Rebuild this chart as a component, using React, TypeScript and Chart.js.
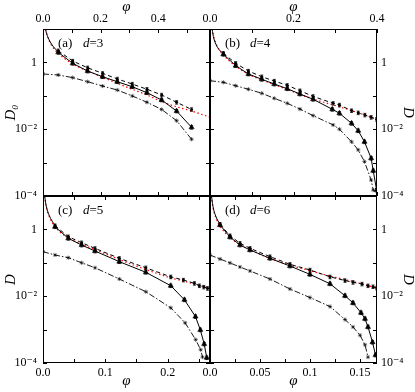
import React, { useEffect, useRef } from 'react';
import { Chart, registerables } from 'chart.js';

Chart.register(...registerables);

const FONT = '"Liberation Serif", "DejaVu Serif", serif';

// ---------- shared axis ticks ----------
const yTicks = [1e-4, 1e-3, 1e-2, 1e-1, 1, 10];
const yLabels = ['10⁻⁴', '', '10⁻²', '', '1', ''];
// relative statistical error drawn on the simulation points
const relErr = 0.12;

// ---------- panel (a) d=3 ----------
const xTicksA = [0, 0.1, 0.2, 0.3, 0.4, 0.5];
const xLabelsA = ['0.0', '', '0.2', '', '0.4', ''];
const phiCircA = [0.053, 0.103, 0.155, 0.207, 0.258, 0.31, 0.361, 0.412, 0.464, 0.516];
const circA = [2.24, 1.1, 0.69, 0.47, 0.32, 0.225, 0.157, 0.106, 0.064, 0.039];
const phiTriA = [0.053, 0.103, 0.155, 0.207, 0.258, 0.31, 0.361, 0.412, 0.464, 0.516];
const triA = [2.0, 0.94, 0.55, 0.373, 0.264, 0.187, 0.124, 0.075, 0.035, 0.0114];
const phiStarA = [0, 0.053, 0.103, 0.155, 0.207, 0.258, 0.31, 0.361, 0.412, 0.464, 0.516];
const starA = [0.45, 0.42, 0.35, 0.264, 0.196, 0.149, 0.099, 0.064, 0.039, 0.018, 0.005];
const phiRedA = [0.0095, 0.015, 0.025, 0.035, 0.053, 0.103, 0.155, 0.207, 0.258, 0.31, 0.361, 0.412, 0.464, 0.516, 0.58];
const redA = [10, 6.3, 3.8, 2.75, 1.87, 0.895, 0.553, 0.358, 0.237, 0.157, 0.106, 0.0665, 0.047, 0.035, 0.0227];
const phiLowA = [0.0065, 0.012, 0.02, 0.03, 0.04, 0.053];
const lowA = [12, 7.5, 5, 3.5, 2.7, 2.05];

// ---------- panel (b) d=4 ----------
const xTicksB = [0, 0.1, 0.2, 0.3, 0.4];
const xLabelsB = ['0.0', '', '0.2', '', '0.4'];
const phiCircB = [0.032, 0.0615, 0.092, 0.124, 0.154, 0.185, 0.2156, 0.247, 0.295, 0.31, 0.339, 0.355, 0.371, 0.386, 0.399];
const circB = [1.87, 0.94, 0.553, 0.373, 0.277, 0.206, 0.142, 0.096, 0.0596, 0.053, 0.036, 0.031, 0.0266, 0.0227, 0.0198];
const phiTriB = [0.032, 0.0615, 0.092, 0.124, 0.154, 0.185, 0.2156, 0.247, 0.293, 0.31, 0.339, 0.355, 0.37, 0.386, 0.391, 0.399];
const triB = [1.75, 0.8, 0.45, 0.312, 0.225, 0.163, 0.113, 0.0785, 0.0394, 0.03, 0.015, 0.009, 0.0042, 0.00135, 0.00057, 0.00015];
const phiStarB = [0, 0.032, 0.0615, 0.092, 0.124, 0.154, 0.185, 0.2156, 0.247, 0.295, 0.31, 0.339, 0.355, 0.37, 0.386, 0.391];
const starB = [0.283, 0.253, 0.2, 0.157, 0.119, 0.084, 0.0596, 0.04, 0.0255, 0.0134, 0.01, 0.0042, 0.0024, 0.00107, 0.0003, 0.00015];
const phiRedB = [0.0053, 0.01, 0.02, 0.032, 0.0615, 0.092, 0.124, 0.154, 0.185, 0.2156, 0.247, 0.295, 0.31, 0.355, 0.4];
const redB = [10, 5.3, 2.65, 1.66, 0.78, 0.44, 0.3, 0.215, 0.155, 0.11, 0.08, 0.053, 0.047, 0.031, 0.0198];
const phiLowB = [0.004, 0.008, 0.014, 0.022, 0.032];
const lowB = [12, 6, 3.5, 2.4, 1.8];

// ---------- panel (c) d=5 ----------
const xTicksC = [0, 0.05, 0.1, 0.15, 0.2, 0.25];
const xLabelsC = ['0.0', '', '0.1', '', '0.2', ''];
const phiCircC = [0.0193, 0.0406, 0.062, 0.0835, 0.1225, 0.165, 0.205, 0.2253, 0.243, 0.251, 0.258, 0.264];
const circC = [1.29, 0.605, 0.4, 0.27, 0.136, 0.071, 0.038, 0.0305, 0.0243, 0.0206, 0.0188, 0.0172];
const phiTriC = [0.0193, 0.0406, 0.062, 0.0835, 0.1225, 0.165, 0.205, 0.227, 0.2447, 0.2525, 0.2587, 0.2628];
const triC = [1.2, 0.54, 0.34, 0.225, 0.108, 0.052, 0.0206, 0.0078, 0.00245, 0.00098, 0.00037, 0.000144];
const phiStarC = [0, 0.0193, 0.0406, 0.062, 0.0835, 0.1225, 0.165, 0.205, 0.228, 0.245, 0.253, 0.256];
const starC = [0.215, 0.171, 0.142, 0.1, 0.071, 0.0327, 0.0136, 0.0045, 0.0016, 0.0005, 0.00025, 0.00015];
const phiRedC = [0.0025, 0.005, 0.01, 0.0193, 0.0406, 0.062, 0.0835, 0.1225, 0.165, 0.205, 0.23, 0.25, 0.268];
const redC = [10, 5, 2.45, 1.2, 0.56, 0.36, 0.25, 0.125, 0.063, 0.0355, 0.027, 0.021, 0.017];
const phiLowC = [0.002, 0.005, 0.01, 0.0193];
const lowC = [12, 5.2, 2.6, 1.3];

// ---------- panel (d) d=6 ----------
const xTicksD = [0, 0.025, 0.05, 0.075, 0.1, 0.125, 0.15];
const xLabelsD = ['0.0', '', '0.05', '', '0.1', '', '0.15'];
const phiCircD = [0.01, 0.02, 0.03, 0.04, 0.06, 0.08, 0.1, 0.12, 0.135, 0.143, 0.152, 0.158, 0.163, 0.1667];
const circD = [1.42, 0.65, 0.384, 0.272, 0.153, 0.09, 0.061, 0.038, 0.0295, 0.026, 0.0232, 0.0206, 0.0193, 0.0176];
const phiTriD = [0.01, 0.02, 0.03, 0.04, 0.06, 0.08, 0.1, 0.12, 0.135, 0.143, 0.151, 0.155, 0.158, 0.1625, 0.1655];
const triD = [1.36, 0.59, 0.34, 0.242, 0.136, 0.08, 0.045, 0.0235, 0.0103, 0.0063, 0.0032, 0.0021, 0.0012, 0.00042, 0.000173];
const phiStarD = [0, 0.01, 0.02, 0.03, 0.04, 0.06, 0.08, 0.1, 0.12, 0.135, 0.143, 0.15, 0.155, 0.158];
const starD = [0.171, 0.13, 0.099, 0.075, 0.057, 0.0327, 0.0164, 0.0091, 0.0049, 0.002, 0.0012, 0.00068, 0.00035, 0.00015];
const phiRedD = [0.0013, 0.003, 0.006, 0.01, 0.02, 0.03, 0.04, 0.06, 0.08, 0.1, 0.12, 0.14, 0.1667];
const redD = [10, 4.5, 2.2, 1.26, 0.57, 0.35, 0.245, 0.135, 0.085, 0.058, 0.04, 0.029, 0.0176];
const phiLowD = [0.001, 0.003, 0.006, 0.01];
const lowD = [13, 4.8, 2.4, 1.4];

const pts = (xs: number[], ys: number[]) => xs.map((x, i) => ({ x, y: ys[i] }));

type Panel = {
  tag: string; dim: string; xMax: number; xTicks: number[]; xLabels: string[];
  xPos: 'top' | 'bottom'; yPos: 'left' | 'right'; yTitle: string;
  left: number; top: number; width: number; height: number;
  padding: { left: number; right: number; top: number; bottom: number };
  circ: any[]; tri: any[]; star: any[]; red: any[]; low: any[];
};

const panels: Panel[] = [
  {
    tag: '(a)', dim: '3', xMax: 0.58, xTicks: xTicksA, xLabels: xLabelsA, xPos: 'top', yPos: 'left', yTitle: 'D₀',
    left: 0, top: 0, width: 220, height: 206, padding: { left: 0, right: 10, top: 0, bottom: 10 },
    circ: pts(phiCircA, circA), tri: pts(phiTriA, triA), star: pts(phiStarA, starA), red: pts(phiRedA, redA), low: pts(phiLowA, lowA),
  },
  {
    tag: '(b)', dim: '4', xMax: 0.4, xTicks: xTicksB, xLabels: xLabelsB, xPos: 'top', yPos: 'right', yTitle: 'D',
    left: 200, top: 0, width: 215, height: 206, padding: { left: 10, right: 0, top: 0, bottom: 10 },
    circ: pts(phiCircB, circB), tri: pts(phiTriB, triB), star: pts(phiStarB, starB), red: pts(phiRedB, redB), low: pts(phiLowB, lowB),
  },
  {
    tag: '(c)', dim: '5', xMax: 0.268, xTicks: xTicksC, xLabels: xLabelsC, xPos: 'bottom', yPos: 'left', yTitle: 'D',
    left: 0, top: 186, width: 220, height: 206, padding: { left: 0, right: 10, top: 10, bottom: 0 },
    circ: pts(phiCircC, circC), tri: pts(phiTriC, triC), star: pts(phiStarC, starC), red: pts(phiRedC, redC), low: pts(phiLowC, lowC),
  },
  {
    tag: '(d)', dim: '6', xMax: 0.167, xTicks: xTicksD, xLabels: xLabelsD, xPos: 'bottom', yPos: 'right', yTitle: 'D',
    left: 200, top: 186, width: 215, height: 206, padding: { left: 10, right: 0, top: 10, bottom: 0 },
    circ: pts(phiCircD, circD), tri: pts(phiTriD, triD), star: pts(phiStarD, starD), red: pts(phiRedD, redD), low: pts(phiLowD, lowD),
  },
];

const framePlugin = {
  id: 'frame',
  afterDraw(chart: any) {
    const { ctx, chartArea, scales } = chart;
    const { left, right, top, bottom } = chartArea;
    const L = 4;
    ctx.save();
    ctx.strokeStyle = '#000';
    ctx.lineWidth = 1;
    ctx.beginPath();
    scales.x.ticks.forEach((t: any) => {
      const px = Math.round(scales.x.getPixelForValue(t.value)) + 0.5;
      ctx.moveTo(px, top); ctx.lineTo(px, top + L);
      ctx.moveTo(px, bottom); ctx.lineTo(px, bottom - L);
    });
    scales.y.ticks.forEach((t: any) => {
      const py = Math.round(scales.y.getPixelForValue(t.value)) + 0.5;
      ctx.moveTo(left, py); ctx.lineTo(left + L, py);
      ctx.moveTo(right, py); ctx.lineTo(right - L, py);
    });
    ctx.stroke();
    ctx.strokeRect(left + 0.5, top + 0.5, right - left - 1, bottom - top - 1);
    ctx.restore();
  },
};

// error bars on the simulation data (datasets flagged with errorBars)
const errorBarPlugin = {
  id: 'errorBars',
  afterDatasetsDraw(chart: any) {
    const { ctx, chartArea, scales } = chart;
    ctx.save();
    ctx.beginPath();
    ctx.rect(chartArea.left, chartArea.top, chartArea.right - chartArea.left, chartArea.bottom - chartArea.top);
    ctx.clip();
    ctx.strokeStyle = '#000';
    ctx.lineWidth = 0.8;
    chart.data.datasets.forEach((ds: any) => {
      if (!ds.errorBars) return;
      ds.data.forEach((d: any) => {
        const px = scales.x.getPixelForValue(d.x);
        const y1 = scales.y.getPixelForValue(d.y * (1 + relErr));
        const y2 = scales.y.getPixelForValue(d.y * (1 - relErr));
        ctx.beginPath();
        ctx.moveTo(px, y1); ctx.lineTo(px, y2);
        ctx.moveTo(px - 1.5, y1); ctx.lineTo(px + 1.5, y1);
        ctx.moveTo(px - 1.5, y2); ctx.lineTo(px + 1.5, y2);
        ctx.stroke();
      });
    });
    ctx.restore();
  },
};

const labelPlugin = {
  id: 'panelLabel',
  afterDraw(chart: any, _args: any, opts: any) {
    const { ctx, chartArea } = chart;
    const x = chartArea.left + 15;
    const y = chartArea.top + 18;
    ctx.save();
    ctx.fillStyle = '#000';
    ctx.textBaseline = 'alphabetic';
    ctx.textAlign = 'left';
    ctx.font = `13px ${FONT}`;
    ctx.fillText(opts.tag, x, y);
    const dx = chartArea.left + 40;
    ctx.font = `italic 13px ${FONT}`;
    ctx.fillText('d', dx, y);
    const w = ctx.measureText('d').width;
    ctx.font = `13px ${FONT}`;
    ctx.fillText('=' + opts.dim, dx + w, y);
    ctx.restore();
  },
};

function PanelChart({ p }: { p: Panel }) {
  const ref = useRef<HTMLCanvasElement>(null);
  useEffect(() => {
    if (!ref.current) return;
    const chart = new Chart(ref.current, {
      type: 'scatter',
      data: {
        datasets: [
          {
            data: p.tri, showLine: true, borderColor: '#000', borderWidth: 1, errorBars: true,
            pointStyle: 'triangle', pointRadius: 3, pointBackgroundColor: '#000', pointBorderColor: '#000', pointBorderWidth: 0.5,
          },
          {
            data: p.circ, showLine: true, borderColor: '#000', borderWidth: 1, borderDash: [4, 3], errorBars: true,
            pointStyle: 'circle', pointRadius: 1.5, pointBackgroundColor: '#000', pointBorderWidth: 0,
          },
          {
            data: p.star, showLine: true, borderColor: '#000', borderWidth: 0.9, borderDash: [6, 2, 1.5, 2],
            pointStyle: 'star', pointRadius: 2.1, pointBorderColor: '#000', pointBorderWidth: 0.6,
          },
          {
            data: p.low, showLine: true, borderColor: '#000', borderWidth: 1, pointRadius: 0,
            cubicInterpolationMode: 'monotone',
          },
          {
            data: p.red, showLine: true, borderColor: '#ff0000', borderWidth: 1.2, borderDash: [1.5, 2.5], pointRadius: 0,
            cubicInterpolationMode: 'monotone',
          },
        ] as any,
      },
      options: {
        animation: false,
        responsive: false,
        maintainAspectRatio: false,
        layout: { padding: p.padding },
        plugins: {
          legend: { display: false },
          tooltip: { enabled: false },
          panelLabel: { tag: p.tag, dim: p.dim },
        } as any,
        scales: {
          x: {
            type: 'linear', position: p.xPos, min: 0, max: p.xMax,
            grid: { display: false, drawTicks: false }, border: { display: false },
            ticks: {
              autoSkip: false, maxRotation: 0, padding: 3, color: '#000',
              font: { family: FONT, size: 12 },
              callback: (_v: any, i: number) => p.xLabels[i],
            },
            afterBuildTicks: (s: any) => { s.ticks = p.xTicks.map((v) => ({ value: v })); },
            afterFit: (s: any) => { s.height = 29; s.paddingLeft = 0; s.paddingRight = 0; },
            title: {
              display: true, text: 'φ', color: '#000',
              font: { family: FONT, size: 15, style: 'italic', lineHeight: 1 },
              padding: p.xPos === 'top' ? { top: 0, bottom: 0 } : { top: 3, bottom: 3 },
            },
          },
          y: {
            type: 'logarithmic', position: p.yPos, min: 1e-4, max: 10,
            grid: { display: false, drawTicks: false }, border: { display: false },
            ticks: {
              autoSkip: false, padding: p.yPos === 'left' ? 6 : 4, color: '#000',
              font: { family: FONT, size: 12 },
              callback: (_v: any, i: number) => yLabels[i],
            },
            afterBuildTicks: (s: any) => { s.ticks = yTicks.map((v) => ({ value: v })); },
            afterFit: (s: any) => { s.width = p.yPos === 'left' ? 43 : 38; s.paddingTop = 0; s.paddingBottom = 0; },
            title: {
              display: true, text: p.yTitle, color: '#000',
              font: { family: FONT, size: 15, style: 'italic', lineHeight: 1 },
              padding: p.yPos === 'left' ? { top: 4, bottom: 4 } : { top: 0, bottom: 0 },
            },
          },
        } as any,
      },
      plugins: [framePlugin, errorBarPlugin, labelPlugin],
    });
    return () => chart.destroy();
  }, [p]);
  return (
    <canvas
      ref={ref}
      width={p.width}
      height={p.height}
      style={{ position: 'absolute', left: p.left, top: p.top, width: p.width, height: p.height, display: 'block' }}
    />
  );
}

export default function App() {
  return (
    <div style={{ position: 'absolute', left: 0, top: 0, width: 415, height: 392, background: '#fff', overflow: 'hidden' }}>
      {panels.map((p) => (
        <PanelChart key={p.tag} p={p} />
      ))}
    </div>
  );
}
